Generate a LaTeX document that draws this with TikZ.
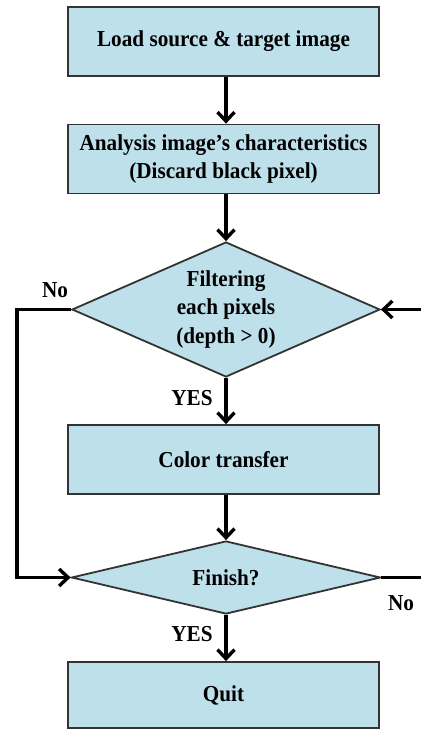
\documentclass[tikz,border=0pt]{standalone}
\usepackage{fontspec}
\setmainfont{Liberation Serif}[FakeStretch=0.93]
\usetikzlibrary{shapes.geometric,arrows.meta}
\definecolor{boxfill}{RGB}{190,224,234}
\begin{document}
\begin{tikzpicture}[x=1pt,y=-1pt,
  every node/.style={font=\fontsize{22.8}{28.5}\selectfont\bfseries},
  procbox/.style={draw=black!80,line width=1.8pt,fill=boxfill,minimum width=311pt,minimum height=69pt,inner sep=0pt,align=center},
  decbox/.style={diamond,draw=black!80,line width=1.8pt,fill=boxfill,inner sep=0pt,align=center},
  flow/.style={line width=3.4pt,-{Straight Barb[length=9pt,width=17pt]}},
  plain/.style={line width=3.4pt},
  lbl/.style={inner sep=0pt}]
\useasboundingbox (0,0) rectangle (420,730);
\node[procbox] (load) at (223.5,41.5) {Load source \& target image};
\node[procbox] (anal) at (223.5,159) {Analysis image’s characteristics\\(Discard black pixel)};
\node[decbox,aspect=2.28,minimum width=308pt,minimum height=135pt] (filt) at (226,309.5) {Filtering\\each pixels\\(depth > 0)};
\node[procbox] (col) at (223.5,459.5) {Color transfer};
\node[decbox,aspect=4.2,minimum width=309pt,minimum height=73pt] (fin) at (226,577.5) {Finish?};
\node[procbox,minimum height=66pt] (quit) at (223.5,695) {Quit};
\node[lbl] (no1) at (55,290) {No};
\node[lbl] (no2) at (401,603) {No};
\node[lbl] (yes1) at (192,398) {YES};
\node[lbl] (yes2) at (192,634) {YES};
\coordinate (lt) at (17,309.5);
\coordinate (lb) at (17,577.5);
\coordinate (rt) at (422,309.5);
\coordinate (rb) at (422,577.5);
\draw[flow] (load.south -| filt.north) -- (anal.north -| filt.north);
\draw[flow] (anal.south -| filt.north) -- (filt.north);
\draw[flow] (filt.south) -- (col.north -| filt.south);
\draw[flow] (col.south -| fin.north) -- (fin.north);
\draw[flow] (fin.south) -- (quit.north -| fin.south);
\draw[flow] (filt.west) -- (lt) -- (lb) -- (fin.west);
\draw[flow] (rt) -- (filt.east);
\draw[plain] (fin.east) -- (rb);
\end{tikzpicture}
\end{document}
